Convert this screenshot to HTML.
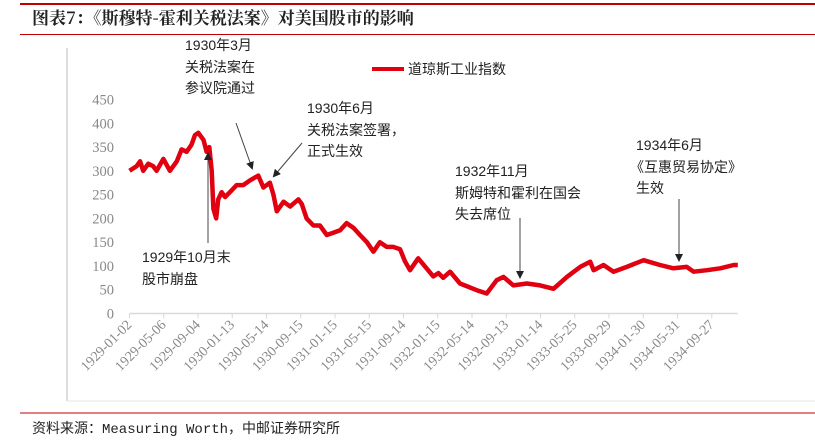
<!DOCTYPE html>
<html><head><meta charset="utf-8"><style>
body{margin:0;background:#fff;width:815px;height:437px;overflow:hidden;font-family:"Liberation Sans","Noto Sans CJK SC",sans-serif}
</style></head><body>
<svg width="815" height="437" xmlns="http://www.w3.org/2000/svg">
<line x1="20" y1="4" x2="815" y2="4" stroke="#c00000" stroke-width="2"/>
<text x="32" y="24" font-size="17" font-weight="bold" fill="#222" font-family="'Noto Serif CJK SC','Noto Sans CJK SC',serif">图表7：《斯穆特-霍利关税法案》对美国股市的影响</text>
<line x1="20" y1="34.5" x2="815" y2="34.5" stroke="#c00000" stroke-width="1"/>
<line x1="67" y1="48" x2="67" y2="401" stroke="#bbb" stroke-width="1"/>
<line x1="67" y1="401" x2="815" y2="401" stroke="#e6e6e6" stroke-width="1"/>
<line x1="20" y1="413" x2="815" y2="413" stroke="#c00000" stroke-width="1"/>
<text x="32" y="433" font-size="14" fill="#222" font-family="'Liberation Mono','Noto Sans CJK SC',monospace">资料来源：Measuring Worth，中邮证券研究所</text>
<g id="yaxis"></g>
<g id="xaxis"></g>
<g id="plot"></g>
<line x1="372" y1="69" x2="404" y2="69" stroke="#e00010" stroke-width="4"/>
<text x="408" y="74" font-size="14" fill="#222">道琼斯工业指数</text>
<g font-size="14" fill="#222">
<text x="185" y="50"><tspan x="185">1930年3月</tspan><tspan x="185" dy="22">关税法案在</tspan><tspan x="185" dy="21">参议院通过</tspan></text>
<text x="307" y="113"><tspan x="307">1930年6月</tspan><tspan x="307" dy="22">关税法案签署，</tspan><tspan x="307" dy="21">正式生效</tspan></text>
<text x="142" y="262"><tspan x="142">1929年10月末</tspan><tspan x="142" dy="22">股市崩盘</tspan></text>
<text x="455" y="176"><tspan x="455">1932年11月</tspan><tspan x="455" dy="22">斯姆特和霍利在国会</tspan><tspan x="455" dy="21">失去席位</tspan></text>
<text x="636" y="150"><tspan x="636">1934年6月</tspan><tspan x="630" dy="22">《互惠贸易协定》</tspan><tspan x="636" dy="21">生效</tspan></text>
</g>
<defs><marker id="ah" markerWidth="8" markerHeight="8" refX="6" refY="4" orient="auto" markerUnits="userSpaceOnUse"><path d="M0,0 L8,4 L0,8 z" fill="#222"/></marker></defs>
<g stroke="#444" stroke-width="1">
<line x1="236" y1="123" x2="252" y2="168" marker-end="url(#ah)"/>
<line x1="302" y1="143" x2="274" y2="176" marker-end="url(#ah)"/>
<line x1="208" y1="243" x2="208" y2="154" marker-end="url(#ah)"/>
<line x1="520" y1="218" x2="520" y2="277" marker-end="url(#ah)"/>
<line x1="679" y1="199" x2="679" y2="260" marker-end="url(#ah)"/>
</g>
</svg>
<script>
const yTicks=[0,50,100,150,200,250,300,350,400,450];
const xTickLabels=["1929-01-02","1929-05-06","1929-09-04","1930-01-13","1930-05-14","1930-09-15","1931-01-15","1931-05-15","1931-09-14","1932-01-15","1932-05-14","1932-09-13","1933-01-14","1933-05-25","1933-09-29","1934-01-30","1934-05-31","1934-09-27"];
const seriesT=[0,0.21,0.31,0.40,0.55,0.69,0.79,0.99,1.18,1.38,1.52,1.67,1.81,1.91,2.01,2.16,2.25,2.33,2.40,2.45,2.53,2.59,2.69,2.79,2.93,3.13,3.32,3.52,3.76,3.91,4.10,4.20,4.30,4.50,4.69,4.93,5.03,5.17,5.37,5.56,5.76,5.95,6.15,6.34,6.54,6.73,6.93,7.12,7.31,7.51,7.70,7.90,8.04,8.19,8.43,8.87,9.02,9.16,9.36,9.65,10.14,10.43,10.72,10.92,11.21,11.60,11.99,12.38,12.77,13.16,13.45,13.55,13.84,14.13,14.52,15.01,15.49,15.88,16.27,16.47,16.86,17.25,17.64,17.76];
const seriesDJIA=[300,310,320,300,315,310,300,325,300,320,345,340,355,375,380,365,340,350,300,220,200,240,255,245,255,270,270,280,290,265,275,250,215,235,225,240,230,200,185,185,165,170,175,190,180,165,150,130,150,140,140,135,110,91,116,78,85,75,88,63,49,42,70,77,59,63,59,52,77,98,109,91,102,88,98,112,102,95,98,88,91,95,102,102];
const NS="http://www.w3.org/2000/svg";
const x0=129.5,dx=34.25,yBase=313.5,yScale=214/450;
function xPos(t){return x0+t*dx;}
function yPos(v){return yBase-v*yScale;}
const ya=document.getElementById('yaxis'),xa=document.getElementById('xaxis'),pl=document.getElementById('plot');
yTicks.forEach(v=>{const t=document.createElementNS(NS,'text');


t.setAttribute('x',114);t.setAttribute('y',yPos(v)+5);t.setAttribute('text-anchor','end');
t.setAttribute('font-size','14.5');t.setAttribute('fill','#888');t.setAttribute('font-family','Liberation Serif, serif');
t.textContent=v;ya.appendChild(t);});
const ax=document.createElementNS(NS,'line');


ax.setAttribute('x1',xPos(0));ax.setAttribute('x2',xPos(17.76));ax.setAttribute('y1',yBase);ax.setAttribute('y2',yBase);ax.setAttribute('stroke','#d9d9d9');ax.setAttribute('stroke-width','1.5');xa.appendChild(ax);
xTickLabels.forEach((s,i)=>{const x=xPos(i);
const tk=document.createElementNS(NS,'line');


tk.setAttribute('x1',x);tk.setAttribute('x2',x);tk.setAttribute('y1',yBase);tk.setAttribute('y2',yBase+5);tk.setAttribute('stroke','#d9d9d9');xa.appendChild(tk);
const t=document.createElementNS(NS,'text');


t.setAttribute('transform','translate('+(x+3)+','+(yBase+12)+') rotate(-45)');t.setAttribute('text-anchor','end');
t.setAttribute('font-size','14');t.setAttribute('fill','#888');t.setAttribute('font-family','Liberation Serif, serif');
t.textContent=s;xa.appendChild(t);});
const p=document.createElementNS(NS,'polyline');


p.setAttribute('points',seriesT.map((t,i)=>xPos(t).toFixed(1)+','+yPos(seriesDJIA[i]).toFixed(1)).join(' '));
p.setAttribute('fill','none');p.setAttribute('stroke','#e00010');p.setAttribute('stroke-width','4.5');p.setAttribute('stroke-linejoin','round');
pl.appendChild(p);
</script>
</body></html>
